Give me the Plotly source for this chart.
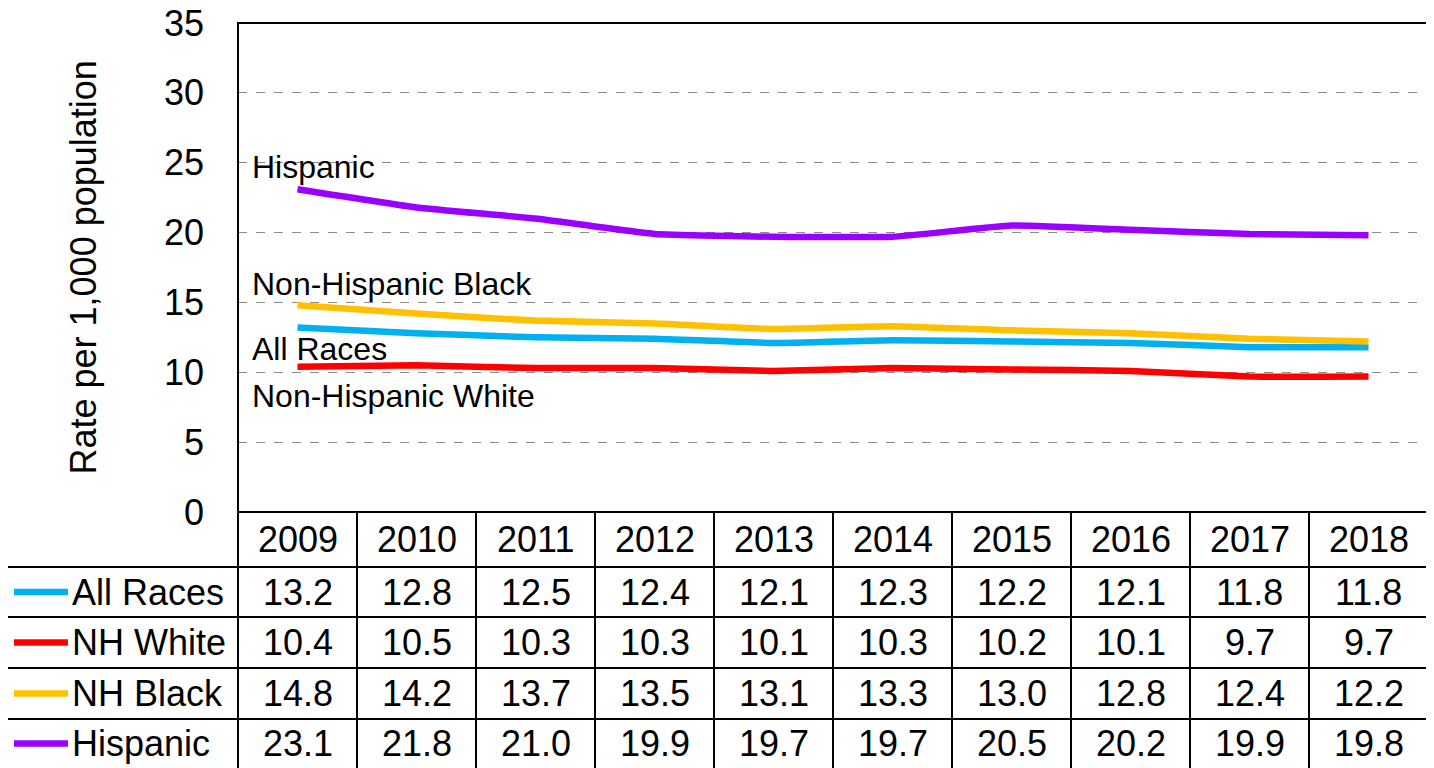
import plotly.graph_objects as go

years = [2009, 2010, 2011, 2012, 2013, 2014, 2015, 2016, 2017, 2018]
all_races = [13.2, 12.8, 12.5, 12.4, 12.1, 12.3, 12.2, 12.1, 11.8, 11.8]
nh_white = [10.4, 10.5, 10.3, 10.3, 10.1, 10.3, 10.2, 10.1, 9.7, 9.7]
nh_black = [14.8, 14.2, 13.7, 13.5, 13.1, 13.3, 13.0, 12.8, 12.4, 12.2]
hispanic = [23.1, 21.8, 21.0, 19.9, 19.7, 19.7, 20.5, 20.2, 19.9, 19.8]

table_names = ["All Races", "NH White", "NH Black", "Hispanic"]
line_labels = ["All Races", "Non-Hispanic White", "Non-Hispanic Black", "Hispanic"]
label_y = [11.7, 8.3, 16.3, 24.7]
colors = ["#00B0F0", "#FF0000", "#FFC000", "#9A00FF"]
series = [all_races, nh_white, nh_black, hispanic]
y_title = "Rate per 1,000 population"

# page is 1434x768; the HTML body has an 8px margin, so the figure is 8px smaller
OFF = 8
W, H = 1434 - OFF, 768 - OFF
FONT = "Liberation Sans, Arial, sans-serif"


def px_x(p):  # page pixel x -> paper
    return (p - OFF) / W


def px_y(p):  # page pixel y -> paper
    return 1 - (p - OFF) / H


x_dom = [px_x(238), px_x(1428)]
y_dom = [px_y(512), px_y(23)]
x_rng = [years[0] - 0.5, years[-1] + 0.5]


def xp(v):
    return x_dom[0] + (v - x_rng[0]) / (x_rng[1] - x_rng[0]) * (x_dom[1] - x_dom[0])


fig = go.Figure()
for name, vals, col in zip(table_names, series, colors):
    fig.add_trace(go.Scatter(
        x=years, y=vals, mode="lines", name=name,
        line=dict(color=col, width=6.5, shape="spline", smoothing=0.35),
        showlegend=False, hoverinfo="x+y+name"))

annotations = []
shapes = []

# series labels inside plot
for lab, ly in zip(line_labels, label_y):
    annotations.append(dict(x=x_rng[0] + 0.1, y=ly, xref="x", yref="y", text=lab,
                            showarrow=False, xanchor="left", yanchor="middle",
                            font=dict(family=FONT, size=32, color="black")))

# y-axis title
annotations.append(dict(x=px_x(83), y=(y_dom[0] + y_dom[1]) / 2, xref="paper", yref="paper",
                        text=y_title, textangle=-90, showarrow=False,
                        xanchor="center", yanchor="middle",
                        font=dict(family=FONT, size=36, color="black")))

# plot border
shapes.append(dict(type="rect", xref="paper", yref="paper", x0=x_dom[0], x1=x_dom[1],
                   y0=y_dom[0], y1=y_dom[1], line=dict(color="black", width=2), layer="above"))

# table geometry
row_edges = [512, 567, 617, 668, 719, 768]
left_px = 7
lw = 2
shapes.append(dict(type="line", xref="paper", yref="paper", x0=x_dom[0], x1=x_dom[1],
                   y0=px_y(row_edges[0]), y1=px_y(row_edges[0]), line=dict(color="black", width=lw)))
for r in row_edges[1:-1]:
    shapes.append(dict(type="line", xref="paper", yref="paper", x0=px_x(left_px), x1=x_dom[1],
                       y0=px_y(r), y1=px_y(r), line=dict(color="black", width=lw)))
for i in range(len(years) + 1):
    xv = xp(x_rng[0] + i)
    shapes.append(dict(type="line", xref="paper", yref="paper", x0=xv, x1=xv,
                       y0=px_y(row_edges[0]), y1=0, line=dict(color="black", width=lw)))
shapes.append(dict(type="line", xref="paper", yref="paper", x0=px_x(left_px), x1=px_x(left_px),
                   y0=px_y(row_edges[1]), y1=0, line=dict(color="black", width=lw)))

# year header
for yr in years:
    annotations.append(dict(x=yr, y=px_y((row_edges[0] + row_edges[1]) / 2), xref="x", yref="paper",
                            text=str(yr), showarrow=False, xanchor="center", yanchor="middle",
                            font=dict(family=FONT, size=36, color="black")))

# data rows
for ri, (name, vals, col) in enumerate(zip(table_names, series, colors)):
    cy = px_y((row_edges[ri + 1] + row_edges[ri + 2]) / 2)
    shapes.append(dict(type="line", xref="paper", yref="paper", x0=px_x(14), x1=px_x(68),
                       y0=cy, y1=cy, line=dict(color=col, width=6.5)))
    annotations.append(dict(x=px_x(70), y=cy, xref="paper", yref="paper", text=name,
                            showarrow=False, xanchor="left", yanchor="middle",
                            font=dict(family=FONT, size=36, color="black")))
    for yr, v in zip(years, vals):
        annotations.append(dict(x=yr, y=cy, xref="x", yref="paper", text=f"{v:.1f}",
                                showarrow=False, xanchor="center", yanchor="middle",
                                font=dict(family=FONT, size=36, color="black")))

fig.update_layout(
    width=W, height=H, margin=dict(l=0, r=0, t=0, b=0, autoexpand=False),
    paper_bgcolor="white", plot_bgcolor="white",
    xaxis=dict(domain=x_dom, range=x_rng, showticklabels=False, showgrid=False,
               zeroline=False, ticks="", automargin=False),
    yaxis=dict(domain=y_dom, range=[0, 35], dtick=5, showgrid=True, gridcolor="#8C8C8C",
               griddash="dash", gridwidth=1.3, zeroline=False, ticks="", automargin=False,
               ticklabeloverflow="allow",
               tickfont=dict(family=FONT, size=36, color="black"), ticklabelstandoff=33),
    shapes=shapes, annotations=annotations,
)

fig.write_html("out.html")
